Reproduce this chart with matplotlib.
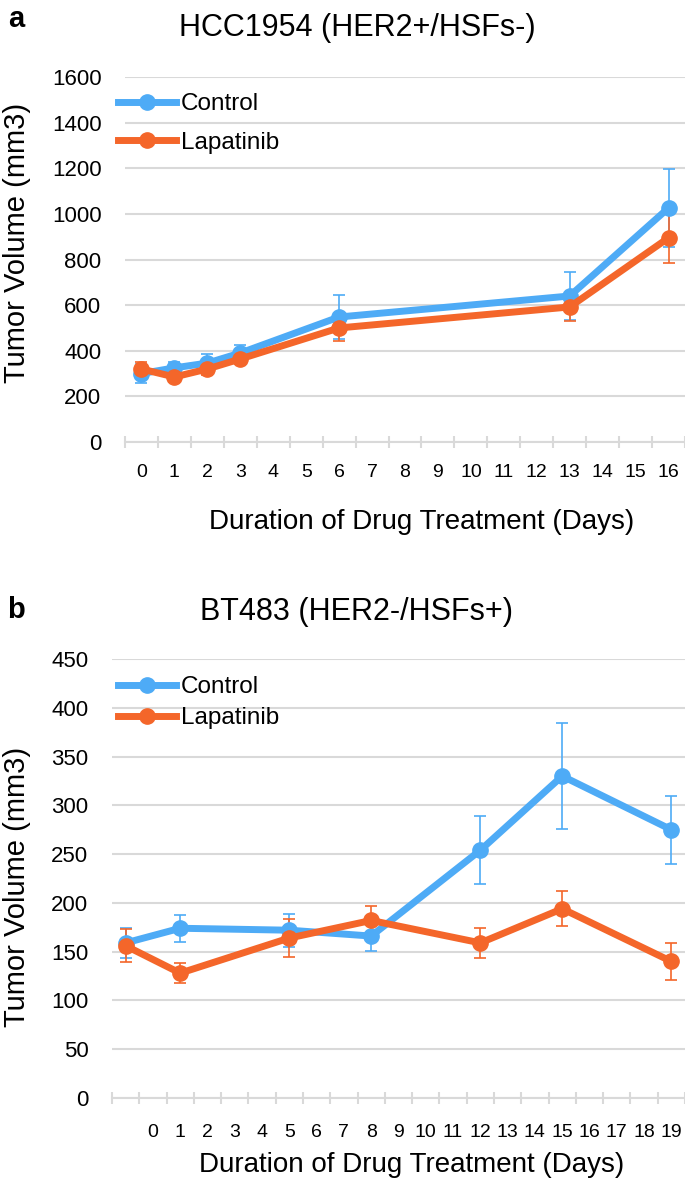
import numpy as np
import matplotlib
matplotlib.use('Agg')
import matplotlib.pyplot as plt

plt.rcParams['font.family'] = ['Liberation Sans', 'DejaVu Sans']

# --- panel a: HCC1954, x axis is categorical (days 0..16)
hcc_cats = [str(d) for d in range(17)]
hcc_days = ['0', '1', '2', '3', '6', '13', '16']
hcc_ctrl = [300, 325, 346, 390, 548, 640, 1026]
hcc_ctrl_err = [40, 25, 40, 35, 95, 105, 170]
hcc_lap = [320, 285, 320, 364, 500, 592, 895]
hcc_lap_err = [30, 20, 25, 20, 57, 60, 112]

# --- panel b: BT483, first category has no label
bt_cats = [''] + [str(d) for d in range(20)]
bt_days = ['', '1', '5', '8', '12', '15', '19']
bt_ctrl = [159, 174, 172, 166, 254, 330, 275]
bt_ctrl_err = [15, 14, 17, 15, 35, 54, 35]
bt_lap = [156, 128, 164, 182, 159, 194, 140]
bt_lap_err = [17, 10, 19, 15, 15, 18, 19]

BLUE = '#4eabf6'
ORANGE = '#f4662a'
GRID = '#d9d9d9'

W, H = 685, 1182
fig = plt.figure(figsize=(W / 100, H / 100), dpi=100)


def fx(px):
    return px / W


def fy(py):
    return 1 - py / H


def panel(rect, cats, days, ctrl, ctrl_err, lap, lap_err, ymax, ystep,
          leg_xy, leg_spacing, xfs, xpad):
    ax = fig.add_axes(rect)
    xs = [cats.index(d) for d in days]
    for vals, errs, col, name in [(ctrl, ctrl_err, BLUE, 'Control'),
                                  (lap, lap_err, ORANGE, 'Lapatinib')]:
        ax.errorbar(xs, vals, yerr=errs, fmt='none', ecolor=col, elinewidth=1.2,
                    capsize=4.5, capthick=1.2, zorder=3)
        ax.plot(xs, vals, '-o', color=col, lw=5, ms=11, label=name, zorder=4)
    ax.set_xlim(-0.5, len(cats) - 0.5)
    ax.set_ylim(0, ymax)
    ax.set_yticks(np.arange(0, ymax + 1, ystep))
    ax.tick_params(axis='y', length=0, labelsize=16, pad=17)
    ax.yaxis.grid(True, color=GRID, lw=1.5)
    ax.set_axisbelow(True)
    # boundaries as major ticks, labels on minor ticks at category centres
    ax.set_xticks(np.arange(-0.5, len(cats), 1.0))
    ax.set_xticklabels([])
    ax.set_xticks(np.arange(len(cats)), minor=True)
    ax.set_xticklabels(cats, minor=True)
    ax.tick_params(axis='x', which='major', direction='inout', length=9,
                   width=1.5, color=GRID)
    ax.tick_params(axis='x', which='minor', length=0, labelsize=xfs, pad=xpad)
    for s in ['top', 'right', 'left']:
        ax.spines[s].set_visible(False)
    ax.spines['bottom'].set_color(GRID)
    ax.spines['bottom'].set_linewidth(1.5)
    ax.legend(loc='upper left', bbox_to_anchor=(fx(leg_xy[0]), fy(leg_xy[1])),
              bbox_transform=fig.transFigure, frameon=False, fontsize=17.5,
              handlelength=2.4, handletextpad=0.2, borderpad=0, borderaxespad=0,
              labelspacing=leg_spacing)
    return ax


ax1 = panel([fx(125), fy(442), fx(560), (442 - 77) / H], hcc_cats, hcc_days,
            hcc_ctrl, hcc_ctrl_err, hcc_lap, hcc_lap_err, 1600, 200, (118, 93), 0.68,
            14, 16)
ax2 = panel([fx(112), fy(1098), fx(573), (1098 - 659) / H], bt_cats, bt_days,
            bt_ctrl, bt_ctrl_err, bt_lap, bt_lap_err, 450, 50, (118, 676), 0.38,
            14, 19)

fig.text(fx(357), fy(28), 'HCC1954 (HER2+/HSFs-)', ha='center', va='center', fontsize=22)
fig.text(fx(357), fy(612), 'BT483 (HER2-/HSFs+)', ha='center', va='center', fontsize=22)
fig.text(fx(16), fy(19), 'a', ha='center', va='center', fontsize=21, fontweight='bold')
fig.text(fx(16), fy(610), 'b', ha='center', va='center', fontsize=21, fontweight='bold')
fig.text(fx(17), fy(243), 'Tumor Volume (mm3)', rotation=90, ha='center', va='center', fontsize=21)
fig.text(fx(17), fy(887), 'Tumor Volume (mm3)', rotation=90, ha='center', va='center', fontsize=21)
fig.text(fx(422), fy(522), 'Duration of Drug Treatment (Days)', ha='center', va='center', fontsize=20)
fig.text(fx(412), fy(1165), 'Duration of Drug Treatment (Days)', ha='center', va='center', fontsize=20)

fig.savefig('out.png', dpi=100)
